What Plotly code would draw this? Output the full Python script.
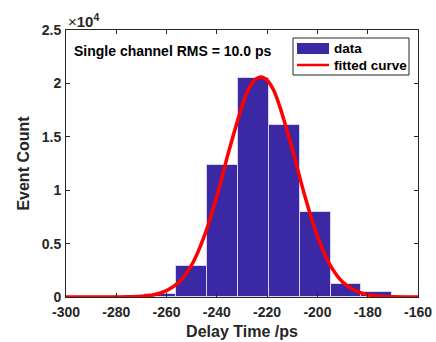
import plotly.graph_objects as go

# Histogram data (bin edges and counts)
bin_edges = [-268.6, -256.3, -244.0, -231.7, -219.4, -207.1, -194.8, -182.5, -170.2]
counts = [270, 2900, 12390, 20480, 16120, 7940, 1260, 480]

# Fitted curve samples
curve_x = [-300, -290, -280, -275, -270, -265, -260, -255, -250, -245, -240, -235,
           -230, -227.5, -225, -222.5, -220, -217.5, -215, -210, -205, -200, -195,
           -190, -185, -180, -175, -170, -165, -160]
curve_y = [0, 0, 5, 20, 65, 210, 600, 1400, 3000, 5700, 9450, 13850,
           17850, 19400, 20300, 20600, 20300, 19400, 17850, 13850, 9450, 5700, 3000,
           1400, 600, 210, 65, 20, 5, 0]

x_ticks = [-300, -280, -260, -240, -220, -200, -180, -160]
x_tick_labels = ["-300", "-280", "-260", "-240", "-220", "-200", "-180", "-160"]
y_ticks = [0, 5000, 10000, 15000, 20000, 25000]
y_tick_labels = ["0", "0.5", "1", "1.5", "2", "2.5"]

centers = [(a + b) / 2 for a, b in zip(bin_edges[:-1], bin_edges[1:])]
widths = [b - a for a, b in zip(bin_edges[:-1], bin_edges[1:])]

FONT = "Liberation Sans, Arial, sans-serif"
TXT = "#262626"
BAR = "#3B28A5"
RED = "#FF0000"

fig = go.Figure()
fig.add_trace(go.Bar(
    x=centers, y=counts, width=widths, name="data", showlegend=False,
    marker=dict(color=BAR, line=dict(color="#D8D4EE", width=1)),
))
fig.add_trace(go.Scatter(
    x=curve_x, y=curve_y, mode="lines", name="fitted curve", showlegend=False,
    line=dict(color=RED, width=3.5, shape="spline"),
))

axis_common = dict(
    showline=True, linecolor="#262626", linewidth=1, mirror="ticks",
    ticks="inside", ticklen=4, tickcolor="#262626", showgrid=False, zeroline=False,
    automargin=False,
    tickfont=dict(family=FONT, size=14, color=TXT, weight="bold"),
)

fig.update_layout(
    width=436, height=342,
    margin=dict(l=66, r=18, t=30, b=45),
    paper_bgcolor="white", plot_bgcolor="white",
    bargap=0,
    showlegend=False,
    xaxis=dict(range=[-300, -160], tickvals=x_ticks, ticktext=x_tick_labels,
               ticklabelstandoff=2, **axis_common,
               title=dict(text="Delay Time /ps", standoff=7,
                          font=dict(family=FONT, size=16, color=TXT, weight="bold"))),
    yaxis=dict(range=[0, 25000], tickvals=y_ticks, ticktext=y_tick_labels,
               ticklabelstandoff=1, **axis_common,
               title=dict(text="Event Count", standoff=8,
                          font=dict(family=FONT, size=16, color=TXT, weight="bold"))),
)

# manual legend (MATLAB style)
def px_x(p):
    return (p - 66) / 352.0

def px_y(p):
    return (297 - p) / 267.0

fig.add_shape(type="rect", xref="paper", yref="paper",
              x0=px_x(293), x1=px_x(409), y0=px_y(75), y1=px_y(38),
              line=dict(color="#262626", width=1), fillcolor="white", layer="above")
fig.add_shape(type="rect", xref="paper", yref="paper",
              x0=px_x(297), x1=px_x(329), y0=px_y(54), y1=px_y(43),
              line=dict(color=BAR, width=0), fillcolor=BAR, layer="above")
fig.add_shape(type="line", xref="paper", yref="paper",
              x0=px_x(297), x1=px_x(329), y0=px_y(65), y1=px_y(65),
              line=dict(color=RED, width=2.5), layer="above")
fig.add_annotation(xref="paper", yref="paper", x=px_x(332), y=px_y(48.5), xanchor="left",
                   yanchor="middle", text="data", showarrow=False,
                   font=dict(family=FONT, size=13.5, color="black", weight="bold"))
fig.add_annotation(xref="paper", yref="paper", x=px_x(332), y=px_y(65), xanchor="left",
                   yanchor="middle", text="fitted curve", showarrow=False,
                   font=dict(family=FONT, size=13.5, color="black", weight="bold"))

fig.add_annotation(xref="paper", yref="paper", x=0.018, y=0.92, xanchor="left", yanchor="middle",
                   text="Single channel RMS = 10.0 ps", showarrow=False,
                   font=dict(family=FONT, size=14, color="black", weight="bold"))
fig.add_annotation(xref="paper", yref="paper", x=0.0, y=1.0, xanchor="left", yanchor="bottom",
                   yshift=-2, text="×<b>10<sup>4</sup></b>", showarrow=False,
                   font=dict(family=FONT, size=15, color=TXT))

fig.write_html("out.html")
